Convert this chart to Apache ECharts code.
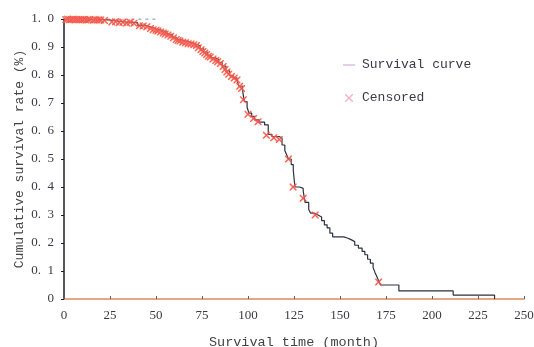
<!DOCTYPE html>
<html>
<head>
<meta charset="utf-8">
<script src="https://cdn.jsdelivr.net/npm/echarts@6/dist/echarts.min.js"></script>
<style>
html,body{margin:0;padding:0;background:#fff;}
#c{width:534px;height:347px;}
</style>
</head>
<body>
<div id="c"></div>
<script>
// Kaplan-Meier step curve (month, cumulative survival)
var curveTime = [0,12,24,33,40,44,47,50,53,56,59,61,64,67,70,72,74,76,78,80,82,84,86,88,90,92,94,95,97,98,99.5,100.5,102,103.5,106,109,111,113,117,118.5,120,121,122,123.5,124.6,125.5,128,130,131,133,134,136,138,140,141.5,143,144.5,146,152,154,156,158,160,162,163.5,165,166.5,168,169,170,171,172,182,211.5,234];
var curveSurv = [1.000,0.997,0.990,0.987,0.977,0.972,0.965,0.960,0.953,0.945,0.935,0.926,0.920,0.914,0.910,0.904,0.893,0.882,0.870,0.862,0.855,0.845,0.832,0.815,0.798,0.790,0.782,0.760,0.748,0.705,0.685,0.664,0.652,0.640,0.632,0.622,0.588,0.580,0.574,0.550,0.530,0.515,0.500,0.480,0.460,0.400,0.395,0.385,0.345,0.320,0.307,0.300,0.293,0.280,0.265,0.254,0.235,0.222,0.218,0.212,0.205,0.192,0.182,0.170,0.158,0.142,0.128,0.112,0.095,0.080,0.065,0.050,0.029,0.014,0.000];

// Censored observations
var censorTime = [1,2,3,4,5,6,7,8,9,10,11,12,13,14,16,17,18,19,20,22,26,28,30,32,34,36,38,41,43,45,47,48.5,50,51,52.5,54,55,56.5,58,59.5,61,62,63,64.5,66,67.5,69,70.5,72,73,74.5,75.5,76.5,77.5,78.5,79.5,81,82.5,83.5,85,86.5,87.5,88.5,89.5,91,92.5,94,95.5,96.5,97.5,100,103,105.5,110,114,117,122,124.5,130,136.5,171];
var censorSurv = [0.998,0.999,0.997,0.998,0.999,0.997,0.998,0.997,0.998,0.997,0.998,0.996,0.997,0.998,0.996,0.997,0.996,0.997,0.996,0.995,0.989,0.990,0.987,0.988,0.986,0.988,0.985,0.976,0.975,0.972,0.966,0.962,0.960,0.957,0.954,0.950,0.946,0.943,0.938,0.933,0.927,0.923,0.921,0.917,0.915,0.912,0.911,0.908,0.905,0.897,0.890,0.884,0.879,0.873,0.867,0.864,0.857,0.852,0.847,0.841,0.830,0.820,0.811,0.803,0.795,0.789,0.782,0.760,0.752,0.712,0.660,0.645,0.633,0.585,0.576,0.570,0.500,0.400,0.360,0.300,0.061];

// Short dashed segment at the top of the plot
var dashTime = [29,51];
var dashSurv = [1.0,1.0];

var xTicks = [0,25,50,75,100,125,150,175,200,225,250];

var curveData = curveTime.map(function(t,i){return [t,curveSurv[i]];});
var censorData = censorTime.map(function(t,i){return [t,censorSurv[i]];});
var dashData = dashTime.map(function(t,i){return [t,dashSurv[i]];});

var xPath = 'path://M0,0 L1.4,0 L5,3.6 L8.6,0 L10,0 L10,1.4 L6.4,5 L10,8.6 L10,10 L8.6,10 L5,6.4 L1.4,10 L0,10 L0,8.6 L3.6,5 L0,1.4 Z';
// legend cross: small X centred in a 16x14 box (corner dots only stretch the box)
var xLegend = 'path://M0,0 L0.01,0 L0.01,0.01 Z M16,14 L15.99,14 L15.99,13.99 Z M4,3 L5,3 L8,6 L11,3 L12,3 L12,4 L9,7 L12,10 L12,11 L11,11 L8,8 L5,11 L4,11 L4,10 L7,7 L4,4 Z';
var lineLegend = 'path://M0,0 L0.01,0 L0.01,0.01 Z M16,14 L15.99,14 L15.99,13.99 Z M2,6.5 L14,6.5 L14,7.5 L2,7.5 Z';
var mono = '"Liberation Mono", "DejaVu Sans Mono", monospace';
var serif = '"Liberation Serif", "DejaVu Serif", serif';

var chart = echarts.init(document.getElementById('c'), null, {renderer:'canvas'});
chart.setOption({
  animation:false,
  backgroundColor:'#ffffff',
  grid:{left:64,right:10,top:19,bottom:48,containLabel:false,outerBoundsMode:'none'},
  legend:{
    orient:'vertical', left:336, top:53, itemWidth:16, itemHeight:14, itemGap:19,
    textStyle:{fontFamily:mono, fontSize:13, color:'#3a3a4a'},
    data:[
      {name:'Survival curve', icon:lineLegend, itemStyle:{color:'#c8a0d8'}},
      {name:'Censored', icon:xLegend, itemStyle:{color:'#f4a0b0'}}
    ]
  },
  xAxis:{
    type:'value', min:0, max:250, interval:25,
    name:'Survival time (month)', nameLocation:'middle', nameGap:36, nameMoveOverlap:false,
    nameTextStyle:{fontFamily:mono, fontSize:13.5, color:'#444'},
    axisLine:{show:true, lineStyle:{color:'#dd8a5c', width:1.5}},
    axisTick:{show:true, inside:true, length:3, lineStyle:{color:'#55607a'}},
    axisLabel:{fontFamily:serif, fontSize:13, color:'#3a3a44', margin:10,
      formatter:function(v){return xTicks.indexOf(v)>=0 ? String(v) : '';}},
    splitLine:{show:false}
  },
  yAxis:{
    type:'value', min:0, max:1, interval:0.1,
    name:'Cumulative survival rate (%)', nameLocation:'middle', nameGap:38, nameMoveOverlap:false,
    nameTextStyle:{fontFamily:mono, fontSize:13, color:'#444'},
    axisLine:{show:true, lineStyle:{color:'#1c1c2a', width:1.5}},
    axisTick:{show:true, inside:false, length:3, lineStyle:{color:'#1c1c2a'}},
    axisLabel:{fontFamily:serif, fontSize:13, color:'#3a3a44', margin:10,
      formatter:function(v){ if(Math.abs(v)<1e-9) return '0'; return v.toFixed(1).replace('.', '.\u2002');}},
    splitLine:{show:false}
  },
  series:[
    {
      name:'Survival curve', type:'line', step:'end', data:curveData,
      showSymbol:false, symbol:'none',
      lineStyle:{color:'#2a3040', width:1.2}, z:2
    },
    {
      name:'dash', type:'line', data:dashData, showSymbol:false, symbol:'none',
      lineStyle:{color:'#5a6a90', width:1, type:[3,4]}, z:1
    },
    {
      name:'Censored', type:'scatter', data:censorData, symbol:xPath, symbolSize:7,
      itemStyle:{color:'#f23c55', opacity:0.8, shadowColor:'rgba(255,210,90,0.7)', shadowBlur:1.5}, z:3
    }
  ]
});
</script>
</body>
</html>
